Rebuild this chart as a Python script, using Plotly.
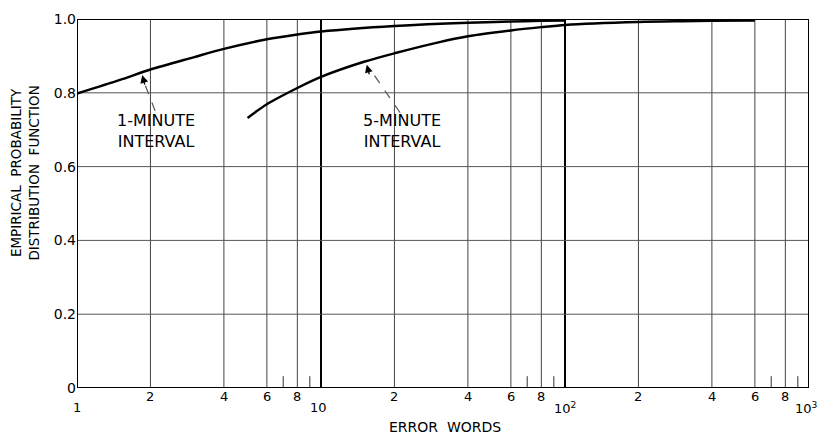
import math
import plotly.graph_objects as go

# ---- data ----
one_min_x = [1, 1.5, 2, 3, 4, 6, 8, 10, 20, 40, 60, 80, 100]
one_min_y = [0.798, 0.835, 0.863, 0.896, 0.919, 0.945, 0.958, 0.966, 0.981, 0.990, 0.993, 0.995, 0.996]
five_min_x = [5, 6, 8, 10, 15, 20, 30, 40, 60, 80, 100, 200, 300, 400, 600]
five_min_y = [0.732, 0.769, 0.813, 0.843, 0.884, 0.907, 0.936, 0.953, 0.969, 0.978, 0.984, 0.992, 0.994, 0.995, 0.996]

x_grid = [2, 4, 6, 8, 20, 40, 60, 80, 200, 400, 600, 800]
x_decades = [10, 100]
x_minor = [7, 9, 70, 90, 700, 900]
x_small_labels = [2, 4, 6, 8, 20, 40, 60, 80, 200, 400, 600, 800]
x_small_text = ["2", "4", "6", "8", "2", "4", "6", "8", "2", "4", "6", "8"]
x_decade_labels = [1, 10, 100, 1000]
x_decade_text = ["1", "10", "10<sup>2</sup>", "10<sup>3</sup>"]
y_ticks = [0, 0.2, 0.4, 0.6, 0.8, 1.0]
y_text = ["0", "0.2", "0.4", "0.6", "0.8", "1.0"]

FONT = "DejaVu Sans"

fig = go.Figure()
fig.add_trace(go.Scatter(x=one_min_x, y=one_min_y, mode="lines",
                         line=dict(color="black", width=2.5, shape="spline", smoothing=0.8),
                         showlegend=False))
fig.add_trace(go.Scatter(x=five_min_x, y=five_min_y, mode="lines",
                         line=dict(color="black", width=2.5, shape="spline", smoothing=0.8),
                         showlegend=False))

shapes = []
for xv in x_grid:
    shapes.append(dict(type="line", xref="x", yref="y", x0=xv, x1=xv,
                       y0=0, y1=1, line=dict(color="#444", width=1), layer="below"))
for xv in x_decades:
    shapes.append(dict(type="line", xref="x", yref="y", x0=xv, x1=xv,
                       y0=0, y1=1, line=dict(color="black", width=2), layer="below"))
for yv in y_ticks[1:-1]:
    shapes.append(dict(type="line", xref="x", yref="y", x0=1, x1=1000, y0=yv, y1=yv,
                       line=dict(color="#555", width=1), layer="below"))
for xv in x_minor:
    shapes.append(dict(type="line", xref="x", yref="y", x0=xv, x1=xv,
                       y0=0, y1=0.032, line=dict(color="#333", width=1)))
# frame
shapes.append(dict(type="rect", xref="x", yref="y", x0=1, x1=1000, y0=0, y1=1,
                   line=dict(color="black", width=2)))
# dashed leader lines
shapes.append(dict(type="line", xref="x", yref="y", x0=2.09, y0=0.751,
                   x1=1.9, y1=0.822, line=dict(color="#555", width=1.2, dash="dash")))
shapes.append(dict(type="line", xref="x", yref="y", x0=21.1, y0=0.746,
                   x1=16.2, y1=0.856, line=dict(color="#555", width=1.2, dash="dash")))

ann = []
for xv, t in zip(x_small_labels, x_small_text):
    ann.append(dict(x=math.log10(xv), y=-0.0243, xref="x", yref="paper", text=t, showarrow=False,
                    xanchor="center", yanchor="middle",
                    font=dict(family=FONT, size=13, color="black")))
dec_dx = [0, -3, 0, -3]
for xv, t, dx in zip(x_decade_labels, x_decade_text, dec_dx):
    ann.append(dict(x=math.log10(xv), y=-0.054, xref="x", yref="paper", text=t, showarrow=False,
                    xanchor="center", yanchor="middle",
                    xshift=dx, font=dict(family=FONT, size=13, color="black")))
# arrowheads
ann.append(dict(x=math.log10(1.85), y=0.848, xref="x", yref="y", text="", showarrow=True,
                arrowhead=2, arrowsize=1.2, arrowwidth=1.3, arrowcolor="black", ax=3, ay=11))
ann.append(dict(x=math.log10(15.4), y=0.876, xref="x", yref="y", text="", showarrow=True,
                arrowhead=2, arrowsize=1.2, arrowwidth=1.3, arrowcolor="black", ax=3, ay=11))
# curve labels
ann.append(dict(x=math.log10(2.11), y=0.697, xref="x", yref="y", text="1-MINUTE<br>INTERVAL",
                showarrow=False, font=dict(family=FONT, size=16, color="black")))
ann.append(dict(x=math.log10(21.5), y=0.697, xref="x", yref="y", text="5-MINUTE<br>INTERVAL",
                showarrow=False, font=dict(family=FONT, size=16, color="black")))
# axis titles
ann.append(dict(x=(445 - 77) / 732, y=(388 - 427) / 370, xref="paper", yref="paper",
                xanchor="center", yanchor="middle", text="ERROR  WORDS",
                showarrow=False, font=dict(family=FONT, size=14, color="black")))
ann.append(dict(x=(25 - 77) / 732, y=0.581, xref="paper", yref="paper", textangle=-90,
                xanchor="center", yanchor="middle",
                text="EMPIRICAL  PROBABILITY<br>DISTRIBUTION  FUNCTION",
                showarrow=False, font=dict(family=FONT, size=13.5, color="black")))

fig.update_layout(
    width=825, height=435,
    margin=dict(l=77, r=16, t=19, b=47),
    paper_bgcolor="white", plot_bgcolor="white",
    shapes=shapes, annotations=ann,
    xaxis=dict(type="log", range=[0, 3], showgrid=False, showticklabels=False, ticks="",
               zeroline=False, showline=False),
    yaxis=dict(range=[0, 1], tickvals=y_ticks, ticktext=y_text, showgrid=False, ticks="",
               zeroline=False, showline=False, tickfont=dict(family=FONT, size=14, color="black")),
)
fig.write_html("out.html")
